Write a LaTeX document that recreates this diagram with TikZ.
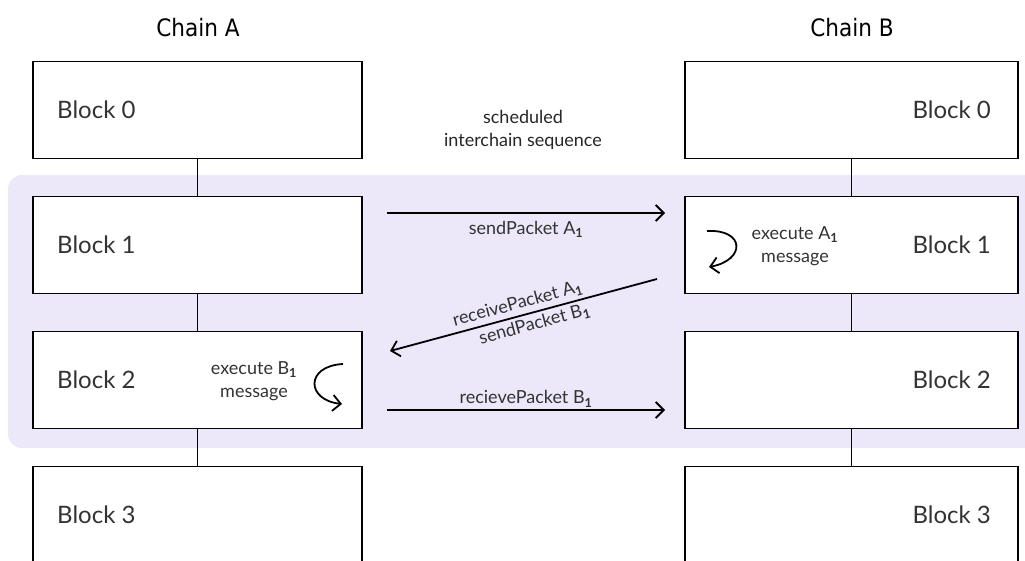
\documentclass[tikz,border=0pt]{standalone}
\usepackage{fontspec}
\setmainfont{Lato}
\newfontfamily\chainfont{DejaVu Sans Condensed}
\usetikzlibrary{arrows.meta,calc}
\definecolor{bgpurple}{RGB}{236,232,250}
\definecolor{txt}{RGB}{51,51,51}
\tikzset{
  blockbox/.style={draw=black, line width=1.8pt, fill=white, minimum height=97pt, inner sep=0pt},
  lbox/.style={blockbox, minimum width=329pt},
  rbox/.style={blockbox, minimum width=333pt},
  blabel/.style={text=txt, font=\fontsize{24}{28}\selectfont, inner sep=0pt},
  chainlbl/.style={text=black, font=\chainfont\fontsize{24}{28}\selectfont, inner sep=0pt},
  msg/.style={text=txt, font=\fontsize{18}{23}\selectfont, inner sep=2pt},
  link/.style={line width=1.5pt},
  flow/.style={line width=1.8pt, -{Straight Barb[length=8pt,width=16pt,line width=1.8pt]}},
}
\begin{document}
\begin{tikzpicture}[x=1pt,y=-1pt]
\useasboundingbox (0,0) rectangle (1025,560);
\fill[bgpurple, rounded corners=14pt] (8,175) rectangle (1045,448);

\node[chainlbl] (ca) at (198,28) {Chain A};
\node[chainlbl] (cb) at (852,28) {Chain B};

% Chain A blocks
\node[lbox] (a0) at (197.5,110) {};
\node[lbox] (a1) at (197.5,245) {};
\node[lbox] (a2) at (197.5,380) {};
\node[lbox] (a3) at (197.5,515) {};
% Chain B blocks
\node[rbox] (b0) at (851.5,110) {};
\node[rbox] (b1) at (851.5,245) {};
\node[rbox] (b2) at (851.5,380) {};
\node[rbox] (b3) at (851.5,515) {};

\draw[link] (a0.south) -- (a1.north);
\draw[link] (a1.south) -- (a2.north);
\draw[link] (a2.south) -- (a3.north);
\draw[link] (b0.south) -- (b1.north);
\draw[link] (b1.south) -- (b2.north);
\draw[link] (b2.south) -- (b3.north);

\node[blabel, anchor=west] (la0) at (57,110) {Block 0};
\node[blabel, anchor=west] (la1) at (57,245) {Block 1};
\node[blabel, anchor=west] (la2) at (57,380) {Block 2};
\node[blabel, anchor=west] (la3) at (57,515) {Block 3};
\node[blabel, anchor=east] (lb0) at (991,110) {Block 0};
\node[blabel, anchor=east] (lb1) at (991,245) {Block 1};
\node[blabel, anchor=east] (lb2) at (991,380) {Block 2};
\node[blabel, anchor=east] (lb3) at (991,515) {Block 3};

\node[msg, text=black!85, align=center] (sched) at (523,130) {scheduled\\interchain sequence};

% arrows between chains
\coordinate (s1) at (387,213);
\coordinate (e1) at (665,213);
\draw[flow] (s1) -- node[msg, below=5pt] {sendPacket A$_{\mathbf{1}}$} (e1);

\coordinate (s2) at (657,279);
\coordinate (e2) at (390,351);
\draw[flow] (s2) -- node[msg, sloped, above=1pt, pos=0.51] {receivePacket A$_{\mathbf{1}}$} node[msg, sloped, below=1pt, pos=0.47] {sendPacket B$_{\mathbf{1}}$} (e2);

\coordinate (s3) at (387,410);
\coordinate (e3) at (665,410);
\draw[flow] (s3) -- node[msg, above=0pt] {recievePacket B$_{\mathbf{1}}$} (e3);

% execute messages
\node[msg, align=center] (exa) at (795,246) {execute A$_{\mathbf{1}}$\\message};
\coordinate (ca1) at (707,231);
\coordinate (ca2) at (709,267);
\draw[flow] (ca1) .. controls (745,229) and (746,260) .. (ca2);

\node[msg, align=center] (exb) at (254,381) {execute B$_{\mathbf{1}}$\\message};
\coordinate (cb1) at (343,364);
\coordinate (cb2) at (342,404);
\draw[flow] (cb1) .. controls (305,366) and (306,400) .. (cb2);
\end{tikzpicture}
\end{document}
